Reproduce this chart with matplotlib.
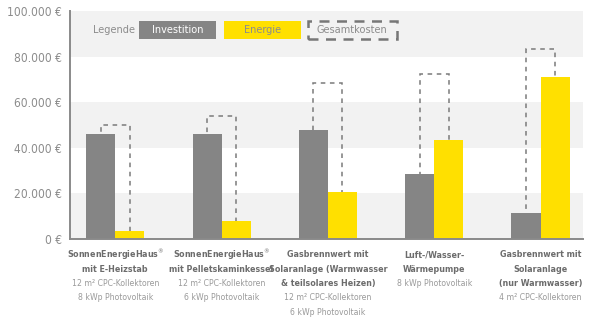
import matplotlib.pyplot as plt
from matplotlib import font_manager
from matplotlib.patches import Rectangle
import numpy as np

# use the condensed cut of DejaVu Sans if it is installed, else shrink a bit
cond = any(f.name == 'DejaVu Sans' and str(f.stretch) == 'condensed'
           for f in font_manager.fontManager.ttflist)
plt.rcParams['font.family'] = ['DejaVu Sans']
if cond:
    plt.rcParams['font.stretch'] = 'condensed'
k = 1.0 if cond else 0.9

# data (EUR)
invest = [46000, 46000, 48000, 28400, 11400]
energie = [3400, 7700, 20600, 43400, 71100]
gesamt = [50000, 54000, 68600, 72300, 83200]
titles = [
    ['SonnenEnergieHaus$^{®}$', 'mit E-Heizstab'],
    ['SonnenEnergieHaus$^{®}$', 'mit Pelletskaminkessel'],
    ['Gasbrennwert mit', 'Solaranlage (Warmwasser', '& teilsolares Heizen)'],
    ['Luft-/Wasser-', 'Wärmepumpe'],
    ['Gasbrennwert mit', 'Solaranlage', '(nur Warmwasser)'],
]
details = [
    ['12 m² CPC-Kollektoren', '8 kWp Photovoltaik'],
    ['12 m² CPC-Kollektoren', '6 kWp Photovoltaik'],
    ['12 m² CPC-Kollektoren', '6 kWp Photovoltaik'],
    ['8 kWp Photovoltaik'],
    ['4 m² CPC-Kollektoren'],
]
yticks = [0, 20000, 40000, 60000, 80000, 100000]
ytick_labels = ['0 €', '20.000 €', '40.000 €', '60.000 €', '80.000 €', '100.000 €']

gray = '#858585'
yellow = '#ffe000'
text_gray = '#8c8c8c'

fig = plt.figure(figsize=(6, 3.26), dpi=100)
ax = fig.add_axes([0.1167, 0.267, 0.855, 0.699])

# background bands
for lo in (0, 40000, 80000):
    ax.axhspan(lo, lo + 20000, color='#f2f2f2', zorder=0, lw=0)

x = np.arange(len(invest))
w = 0.273

# total cost as dashed outline behind the bars
ax.bar(x, gesamt, width=w, facecolor='none', edgecolor='#7a7a7a',
       linestyle=(0, (3, 3)), linewidth=1.1, zorder=1)
ax.bar(x - w / 2, invest, width=w, color=gray, zorder=2)
ax.bar(x + w / 2, energie, width=w, color=yellow, zorder=2)

ax.set_xlim(-0.426, 4.40)
ax.set_ylim(0, 100000)
ax.set_yticks(yticks)
ax.set_yticklabels(ytick_labels, fontsize=8.6 * k, color=text_gray)
ax.tick_params(axis='y', length=0, pad=6)
ax.set_xticks([])

for s in ('top', 'right'):
    ax.spines[s].set_visible(False)
for s in ('left', 'bottom'):
    ax.spines[s].set_color('#8a8a8a')
    ax.spines[s].set_linewidth(1.4)

# category labels: bold title lines, then lighter detail lines
for i in x:
    off = 11.5
    for line in titles[i]:
        ax.annotate(line, xy=(i, 0), xycoords=('data', 'axes fraction'),
                    xytext=(0, -off), textcoords='offset points',
                    ha='center', va='center', fontsize=6.4 * k,
                    fontweight='bold', color='#6c6c6c')
        off += 10.3
    for line in details[i]:
        ax.annotate(line, xy=(i, 0), xycoords=('data', 'axes fraction'),
                    xytext=(0, -off), textcoords='offset points',
                    ha='center', va='center', fontsize=6.2 * k, color='#9a9a9a')
        off += 10.3

# legend in the top band
ly = 0.917
ax.text(0.045, ly, 'Legende', transform=ax.transAxes, ha='left', va='center',
        fontsize=7.8 * k, color=text_gray)
ax.add_patch(Rectangle((0.1345, 0.877), 0.150, 0.080, transform=ax.transAxes,
                       fc=gray, ec='none', zorder=3))
ax.text(0.2095, ly, 'Investition', transform=ax.transAxes, ha='center',
        va='center', fontsize=7.8 * k, color='white', zorder=4)
ax.add_patch(Rectangle((0.300, 0.877), 0.150, 0.080, transform=ax.transAxes,
                       fc=yellow, ec='none', zorder=3))
ax.text(0.375, ly, 'Energie', transform=ax.transAxes, ha='center',
        va='center', fontsize=7.8 * k, color=text_gray, zorder=4)
ax.add_patch(Rectangle((0.4634, 0.877), 0.1734, 0.080, transform=ax.transAxes,
                       fc='none', ec='#777777', lw=1.8, ls=(0, (4, 3)),
                       zorder=3))
ax.text(0.550, ly, 'Gesamtkosten', transform=ax.transAxes, ha='center',
        va='center', fontsize=7.8 * k, color=text_gray, zorder=4)

fig.savefig('out.png', dpi=100)
